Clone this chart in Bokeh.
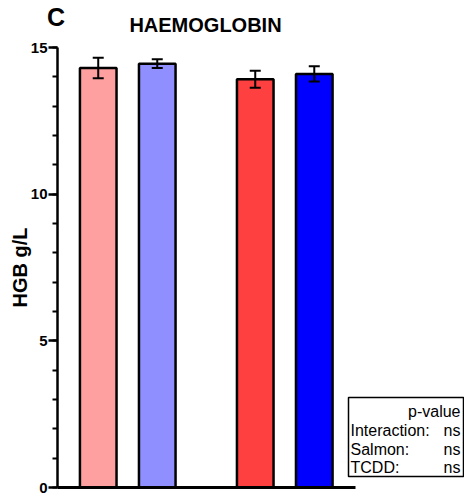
from bokeh.plotting import figure
from bokeh.models import (ColumnDataSource, Range1d, Whisker, TeeHead,
                          Label, BoxAnnotation, SingleIntervalTicker, FixedTicker)
from bokeh.embed import file_html
from bokeh.resources import INLINE

# ---- data ----
groups = ["Control", "Control", "Salmon", "Salmon"]
treatments = ["Vehicle", "TCDD", "Vehicle", "TCDD"]
means = [14.30, 14.45, 13.92, 14.10]
sems = [0.35, 0.15, 0.29, 0.26]
colors = ["#FFA0A0", "#8F8FFF", "#FF4040", "#0000FF"]
y_ticks = [0, 5, 10, 15]
panel_letter = "C"
title_text = "HAEMOGLOBIN"
ylabel = "HGB g/L"
stats_header = "p-value"
stats_names = ["Interaction:", "Salmon:", "TCDD:"]
stats_vals = ["ns", "ns", "ns"]

FONT = "Liberation Sans"
GROUP_GAP = 0.66

# slot positions: one unit per bar, extra gap between groups
order = sorted(set(groups), key=groups.index)
xpos = [i + GROUP_GAP * order.index(g) for i, g in enumerate(groups)]

src = ColumnDataSource(dict(
    x=xpos, top=means, color=colors, group=groups, treatment=treatments,
    upper=[m + s for m, s in zip(means, sems)],
    lower=[m - s for m, s in zip(means, sems)],
))

X_START, X_AXIS_END, X_END = -0.69, 4.36, 6.205

def lab(fig, text, x, y, size, style="normal", align="left"):
    fig.add_layout(Label(x=x, y=y, x_units="screen", y_units="screen", text=text,
                         text_font=FONT, text_font_size=size, text_font_style=style,
                         text_align=align, text_baseline="middle", text_color="black"))

# ---- header figure (panel letter + title) ----
top = figure(width=464, height=39, x_range=(0, 1), y_range=(0, 1),
             min_border=0, output_backend="svg", toolbar_location=None,
             x_axis_location=None, y_axis_location=None)
top.outline_line_color = None
top.grid.visible = False
lab(top, panel_letter, 55.5, 23, "25px", "bold", "center")
lab(top, title_text, 205, 14.5, "20px", "bold", "center")

# ---- main figure ----
p = figure(x_range=Range1d(X_START, X_END), y_range=Range1d(0, 15),
           frame_width=407, frame_height=440,
           min_border_left=57, min_border_right=0, min_border_top=8,
           min_border_bottom=8, output_backend="svg", toolbar_location=None)
p.outline_line_color = None
p.grid.visible = False

p.vbar(x="x", top="top", width=0.62, source=src, fill_color="color",
       line_color="black", line_width=2.5)

w = Whisker(source=src, base="x", upper="upper", lower="lower",
            line_color="black", line_width=2, level="overlay",
            upper_head=TeeHead(size=11, line_width=2, line_color="black"),
            lower_head=TeeHead(size=11, line_width=2, line_color="black"))
p.add_layout(w)

xa = p.xaxis[0]
xa.bounds = (X_START, X_AXIS_END)
xa.ticker = FixedTicker(ticks=[])
xa.major_label_text_font_size = "0px"
xa.major_tick_out = 0
xa.major_tick_in = 0
xa.minor_tick_out = 0
xa.minor_tick_in = 0
xa.major_label_standoff = 0
xa.axis_line_width = 3
xa.axis_line_color = "black"

ya = p.yaxis[0]
ya.ticker = SingleIntervalTicker(interval=5, num_minor_ticks=5)
ya.axis_line_width = 2.5
ya.axis_line_color = "black"
ya.major_tick_out = 9
ya.major_tick_in = 0
ya.major_tick_line_width = 2.5
ya.minor_tick_out = 5
ya.minor_tick_in = 0
ya.minor_tick_line_width = 2
ya.major_label_standoff = 1
ya.major_label_text_font = FONT
ya.major_label_text_font_style = "bold"
ya.major_label_text_font_size = "15px"
ya.major_label_text_color = "black"
ya.axis_label = ylabel
ya.axis_label_text_font = FONT
ya.axis_label_text_font_style = "bold"
ya.axis_label_text_font_size = "20px"
ya.axis_label_text_color = "black"
ya.axis_label_standoff = -3

p.add_layout(BoxAnnotation(left=291, right=406, top=90, bottom=11,
                           left_units="screen", right_units="screen",
                           top_units="screen", bottom_units="screen",
                           fill_color="white", fill_alpha=1.0,
                           line_color="black", line_alpha=1.0, line_width=1.5))
lab(p, stats_header, 403, 76, "16px", "normal", "right")
for i, (n, v) in enumerate(zip(stats_names, stats_vals)):
    yy = 57 - i * 18.5
    lab(p, n, 293, yy, "16px")
    lab(p, v, 403, yy, "16px", "normal", "right")

open("out.html", "w").write(file_html([top, p], INLINE))
